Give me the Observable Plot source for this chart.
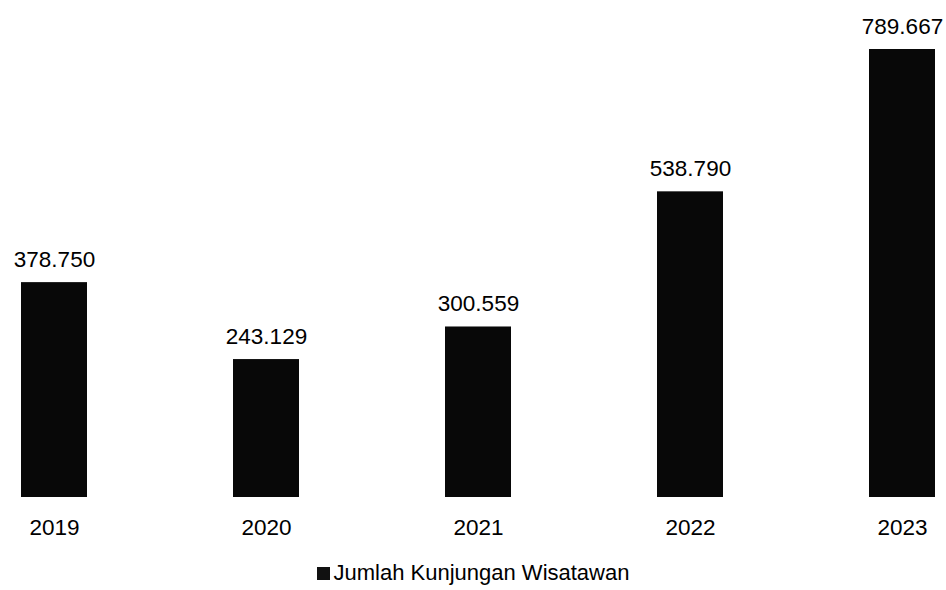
<!DOCTYPE html>
<html>
<head>
<meta charset="utf-8">
<script src="https://cdn.jsdelivr.net/npm/d3@7"></script>
<script src="https://cdn.jsdelivr.net/npm/@observablehq/plot@0.6"></script>
<style>
  html, body { margin: 0; padding: 0; background: #fff; }
  body { width: 946px; height: 590px; overflow: hidden; font-family: "Liberation Sans", Arial, sans-serif; }
  #legend { height: 35px; display: flex; justify-content: center; align-items: center; font-size: 22px; color: #000; }
  #legend .sw { width: 13px; height: 13px; background: #111; margin-right: 4px; margin-top: 1px; }
</style>
</head>
<body>
<div id="chart"></div>
<div id="legend"><span class="sw"></span><span>Jumlah Kunjungan Wisatawan</span></div>
<script>
const years = ["2019", "2020", "2021", "2022", "2023"];
const visitors = [378750, 243129, 300559, 538790, 789667];
const seriesName = "Jumlah Kunjungan Wisatawan";

const data = years.map((y, i) => ({year: y, value: visitors[i]}));
const fmt = d3.formatLocale({decimal: ",", thousands: ".", grouping: [3], currency: ["", ""]}).format(",d");

const chart = Plot.plot({
  width: 946,
  height: 555,
  marginLeft: 0,
  marginRight: 0,
  marginTop: 0,
  marginBottom: 0,
  style: {fontFamily: "'Liberation Sans', Arial, sans-serif", background: "#fff"},
  x: {type: "band", domain: years, range: [19, 937], paddingInner: 0.69, paddingOuter: 0, axis: null},
  y: {domain: [0, 789667], range: [497, 49], axis: null},
  marks: [
    Plot.barY(data, {x: "year", y: "value", fill: "#080808"}),
    Plot.text(data, {x: "year", y: "value", text: d => fmt(d.value), dy: -23, fontSize: 22.5, fill: "#000"}),
    Plot.text(data, {x: "year", y: 0, text: "year", dy: 30, fontSize: 22.5, fill: "#000"})
  ]
});
document.getElementById("chart").appendChild(chart);
</script>
</body>
</html>
